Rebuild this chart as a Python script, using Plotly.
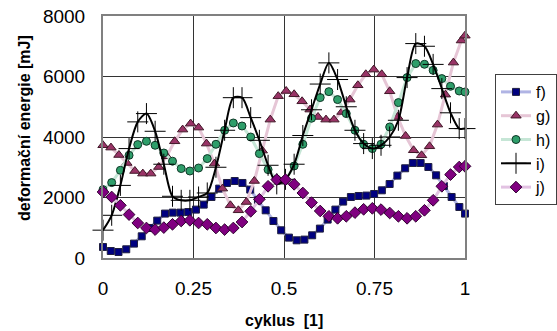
import plotly.graph_objects as go

# x positions (fraction of cycle) for each series
x_f = [0.0, 0.0214, 0.0428, 0.0642, 0.0856, 0.107, 0.1284, 0.1498, 0.1712, 0.1926,
       0.214, 0.2354, 0.2568, 0.2782, 0.2996, 0.321, 0.3424, 0.3638, 0.3852, 0.4066,
       0.428, 0.4494, 0.4708, 0.4922, 0.5136, 0.535, 0.5564, 0.5778, 0.5992, 0.6206,
       0.642, 0.6634, 0.6848, 0.7062, 0.7276, 0.749, 0.7704, 0.7918, 0.8132, 0.8346,
       0.856, 0.8774, 0.8988, 0.9202, 0.9416, 0.963, 0.9844, 1.0]
x_g = [0.0, 0.022, 0.044, 0.066, 0.088, 0.11, 0.132, 0.154, 0.176, 0.198,
       0.22, 0.242, 0.264, 0.286, 0.308, 0.33, 0.352, 0.374, 0.396, 0.418,
       0.44, 0.462, 0.484, 0.506, 0.528, 0.55, 0.572, 0.594, 0.616, 0.638,
       0.66, 0.682, 0.704, 0.726, 0.748, 0.77, 0.792, 0.814, 0.836, 0.858,
       0.88, 0.902, 0.924, 0.946, 0.968, 0.99, 1.0]
x_hij = [0.0, 0.024, 0.048, 0.072, 0.096, 0.12, 0.144, 0.168, 0.192, 0.216,
         0.24, 0.264, 0.288, 0.312, 0.336, 0.36, 0.384, 0.408, 0.432, 0.456,
         0.48, 0.504, 0.528, 0.552, 0.576, 0.6, 0.624, 0.648, 0.672, 0.696,
         0.72, 0.744, 0.768, 0.792, 0.816, 0.84, 0.864, 0.888, 0.912, 0.936,
         0.96, 0.984, 1.0]

f_vals = [364, 231, 198, 288, 476, 717, 992, 1236, 1468, 1500,
          1500, 1520, 1600, 1765, 2017, 2294, 2480, 2545, 2480, 2261,
          1907, 1577, 1223, 916, 674, 585, 608, 750, 972, 1270,
          1600, 1865, 2017, 2050, 2063, 2116, 2238, 2446, 2724, 2966,
          3141, 3141, 3008, 2734, 2380, 2017, 1686, 1468]
g_vals = [3727, 3650, 3405, 3141, 2876, 2790, 2790, 3008, 3362, 3858,
          4245, 4443, 4311, 3782, 3120, 2294, 1742, 1577, 1851, 2546,
          3550, 4575, 5350, 5521, 5412, 5180, 4906, 4662, 4575, 4575,
          4827, 5237, 5710, 6073, 6229, 6073, 5511, 4662, 4033, 3561,
          3395, 3693, 4410, 5400, 6460, 7190, 7350]
h_vals = [2261, 2493, 2899, 3395, 3749, 3858, 3726, 3471, 3200, 2956,
          2876, 2975, 3286, 3759, 4222, 4463, 4364, 4000, 3451, 2922,
          2600, 2570, 3042, 3759, 4620, 5303, 5500, 5237, 4774, 4222,
          3759, 3617, 3759, 4331, 5138, 5964, 6427, 6404, 6205, 5931,
          5676, 5521, 5488]
i_vals = [920, 1412, 2400, 3617, 4500, 4774, 4189, 3100, 2040, 1907,
          1907, 2017, 2150, 3000, 4222, 5300, 5300, 4641, 3891, 3065,
          2450, 2600, 3100, 4050, 4900, 5750, 6450, 5900, 5000, 4222,
          3782, 3617, 3726, 4000, 4553, 5964, 7088, 7000, 6400, 5600,
          4800, 4278, 4278]
j_vals = [2182, 2017, 1742, 1435, 1157, 992, 939, 1005, 1114, 1223,
          1246, 1157, 1114, 992, 939, 992, 1190, 1544, 1941, 2370,
          2592, 2592, 2436, 2149, 1831, 1554, 1379, 1312, 1379, 1500,
          1610, 1643, 1600, 1488, 1379, 1312, 1379, 1577, 1907, 2370,
          2757, 3008, 3031]

names = ["f)", "g)", "h)", "i)", "j)"]
x_tick_vals = [0, 0.25, 0.5, 0.75, 1]
x_tick_text = ["0", "0.25", "0.5", "0.75", "1"]
y_tick_vals = [0, 2000, 4000, 6000, 8000]
x_title = "cyklus  [1]"
y_title = "deformační energie [mJ]"

FONT = "Arial, 'Liberation Sans', sans-serif"

fig = go.Figure()
fig.add_trace(go.Scatter(
    x=x_f, y=f_vals, name=names[0], mode="lines+markers", cliponaxis=False,
    line=dict(color="#b0b4e4", width=3),
    marker=dict(symbol="square", size=7, color="#000080", line=dict(color="#202040", width=1))))
fig.add_trace(go.Scatter(
    x=x_g, y=g_vals, name=names[1], mode="lines+markers", cliponaxis=False,
    line=dict(color="#e6c6d6", width=3),
    marker=dict(symbol="triangle-up", size=9, color="#993366", line=dict(color="#401828", width=1))))
fig.add_trace(go.Scatter(
    x=x_hij, y=h_vals, name=names[2], mode="lines+markers", cliponaxis=False,
    line=dict(color="#c6e6d6", width=3),
    marker=dict(symbol="circle", size=8, color="#2e9e6a", line=dict(color="#103828", width=1))))
fig.add_trace(go.Scatter(
    x=x_hij, y=i_vals, name=names[3], mode="lines+markers", cliponaxis=False,
    line=dict(color="black", width=2, shape="spline", smoothing=0.8),
    marker=dict(symbol="cross-thin", size=15, color="black", line=dict(color="black", width=1))))
fig.add_trace(go.Scatter(
    x=x_hij, y=j_vals, name=names[4], mode="lines+markers", cliponaxis=False,
    line=dict(color="#e2c2e2", width=3),
    marker=dict(symbol="diamond", size=9, color="#800080", line=dict(color="#300030", width=1))))

fig.update_layout(
    width=557, height=331,
    margin=dict(l=103, r=92, t=16, b=73, autoexpand=False),
    paper_bgcolor="white", plot_bgcolor="white",
    font=dict(family=FONT, color="black"),
    showlegend=True,
    legend=dict(
        xref="container", yref="container",
        x=495 / 557, y=1 - 74 / 331, xanchor="left", yanchor="top",
        bgcolor="white", bordercolor="#404040", borderwidth=1,
        font=dict(family=FONT, size=16, color="black"),
        tracegroupgap=0, itemwidth=30,
    ),
    annotations=[
        dict(text="<b>" + x_title + "</b>", xref="paper", yref="paper",
             x=0.5, y=(258 - 320) / 242, xanchor="center", yanchor="middle",
             showarrow=False, font=dict(family=FONT, size=16)),
        dict(text="<b>" + y_title + "</b>", xref="paper", yref="paper",
             x=(24 - 103) / 362, y=(258 - 128) / 242, xanchor="center", yanchor="middle",
             textangle=-90, showarrow=False, font=dict(family=FONT, size=16)),
    ],
)
fig.update_xaxes(
    range=[0, 1], tickvals=x_tick_vals, ticktext=x_tick_text,
    showgrid=True, gridcolor="#333333", gridwidth=1,
    showline=True, linecolor="#808080", linewidth=2, mirror=True,
    zeroline=False, ticks="", ticklabelstandoff=12, automargin=False,
    tickfont=dict(family=FONT, size=19),
)
fig.update_yaxes(
    range=[0, 8000], tickvals=y_tick_vals,
    showgrid=True, gridcolor="#333333", gridwidth=1,
    showline=True, linecolor="#808080", linewidth=2, mirror=True,
    zeroline=False, ticks="", ticklabelstandoff=12, automargin=False,
    tickfont=dict(family=FONT, size=19),
)

fig.write_html("out.html")
